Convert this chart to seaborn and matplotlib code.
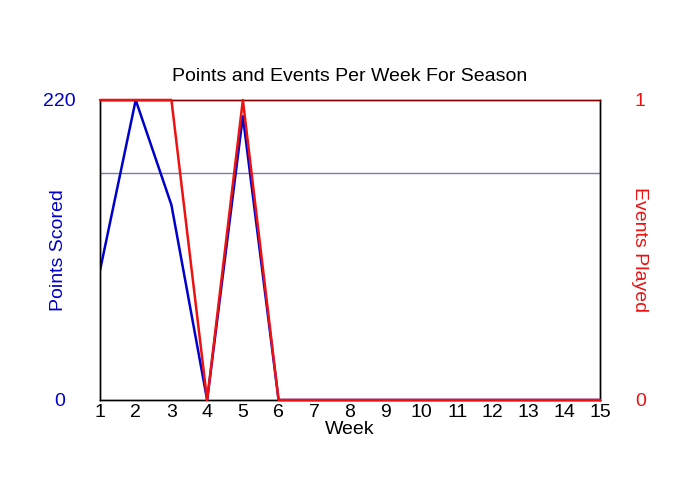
import matplotlib
matplotlib.use("Agg")
import matplotlib.pyplot as plt
import numpy as np
import pandas as pd
import seaborn as sns

sns.set_style("white")
plt.rcParams["font.family"] = ["Liberation Sans", "DejaVu Sans"]
plt.rcParams["text.color"] = "black"

# Season data
weeks = list(range(1, 16))
points_scored = [95, 220, 143, 0, 208, 0, 0, 0, 0, 0, 0, 0, 0, 0, 0]
events_played = [1, 1, 1, 0, 1, 0, 0, 0, 0, 0, 0, 0, 0, 0, 0]

df = pd.DataFrame({"Week": weeks, "Points": points_scored, "Events": events_played})

# average points over weeks actually played
avg_points = df.loc[df["Events"] > 0, "Points"].mean()

BLUE = "#0000cc"
RED = "#ee1111"

fig, ax = plt.subplots(figsize=(7, 5), dpi=100)
fig.subplots_adjust(left=100 / 700, right=600 / 700, bottom=0.2, top=0.8)

ax.axhline(avg_points, color="#7a7ab8", lw=1, zorder=1)
sns.lineplot(data=df, x="Week", y="Points", ax=ax, color=BLUE, lw=1.8, zorder=3)

ax2 = ax.twinx()
sns.lineplot(data=df, x="Week", y="Events", ax=ax2, color=RED, lw=1.8, zorder=3,
             clip_on=False)

ax.set_xlim(1, 15)
ax.set_ylim(0, 220)
ax2.set_ylim(0, 1)
ax.set_xticks(weeks)
ax.set_yticks([0, 220])
ax2.set_yticks([0, 1])

ax.set_title("Points and Events Per Week For Season", fontsize=14, pad=14, color="black")
ax.set_xlabel("Week", fontsize=14, labelpad=0, color="black")
ax.set_ylabel("Points Scored", fontsize=14, color=BLUE)
ax.yaxis.set_label_coords(-0.066, 0.5)
ax2.set_ylabel("Events Played", fontsize=14, color=RED, rotation=270, va="bottom")
ax2.yaxis.set_label_coords(1.062, 0.5)

ax.tick_params(axis="x", length=0, labelsize=14, pad=3, labelcolor="black")
ax.tick_params(axis="y", length=0, labelsize=14, labelcolor=BLUE, pad=29)
ax2.tick_params(axis="y", length=0, labelsize=14, labelcolor=RED, pad=29)
for lab in ax.get_yticklabels():
    lab.set_horizontalalignment("center")
for lab in ax2.get_yticklabels():
    lab.set_horizontalalignment("center")

for a in (ax, ax2):
    for s in a.spines.values():
        s.set_color("black")
        s.set_linewidth(1)
ax2.spines["top"].set_color("#800000")
ax.spines["top"].set_color("#800000")

plt.savefig("out.png", dpi=100)
plt.close()
